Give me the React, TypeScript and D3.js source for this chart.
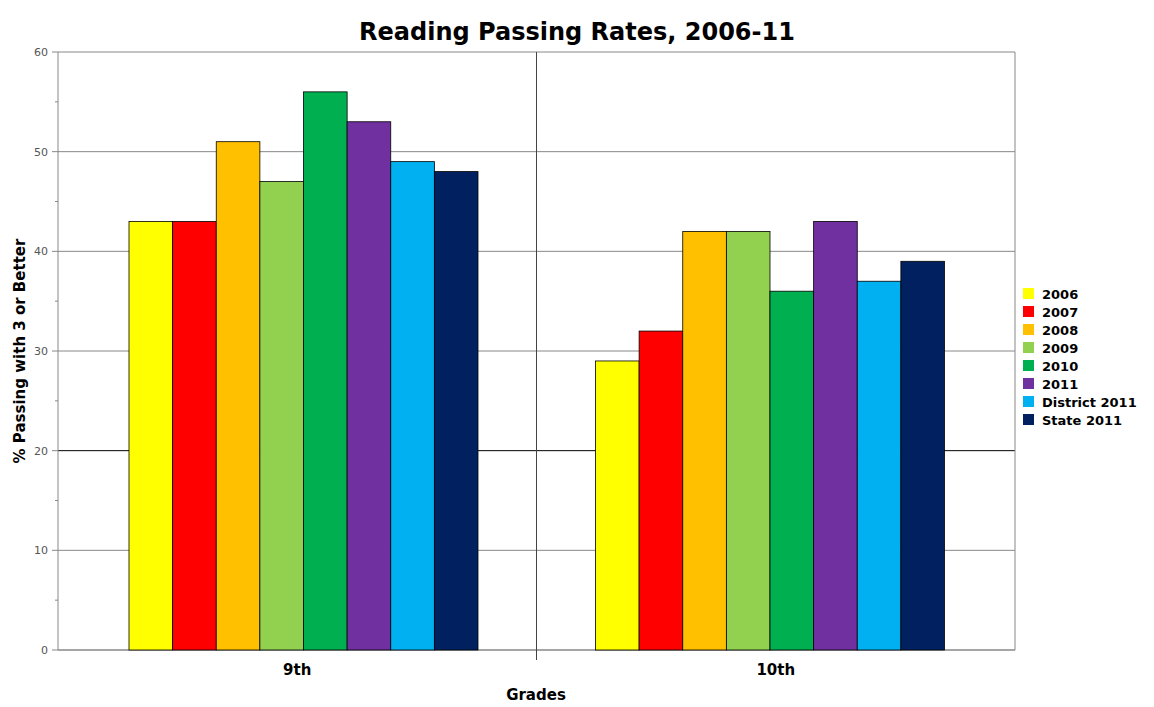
import React from "react";
import * as d3 from "d3";

const grades = ["9th", "10th"];
const series = ["2006", "2007", "2008", "2009", "2010", "2011", "District 2011", "State 2011"];
const colors = ["#ffff00", "#ff0000", "#ffc000", "#92d050", "#00b050", "#7030a0", "#00b0f0", "#002060"];
const values: number[][] = [
  [43, 43, 51, 47, 56, 53, 49, 48],
  [29, 32, 42, 42, 36, 43, 37, 39],
];
const yTicks = [0, 10, 20, 30, 40, 50, 60];
const minorTicks = [5, 15, 25, 35, 45, 55];

export default function App() {
  const W = 1154, H = 707;
  const L = 58, R = 1015, T = 52, B = 650;
  const font = "DejaVu Sans, Verdana, sans-serif";
  const x0 = d3.scaleBand().domain(grades).range([L, R]);
  const y = d3.scaleLinear().domain([0, 60]).range([B, T]);
  const groupW = 349;
  const offsets = [71, 59];
  return (
    <svg width={W} height={H} style={{ position: "absolute", left: 0, top: 0, background: "#fff" }}>
      <text x={577} y={40} textAnchor="middle" fontFamily={font} fontWeight="bold" fontSize={24}>Reading Passing Rates, 2006-11</text>
      {yTicks.map((t) => (
        <g key={t}>
          <line x1={L} x2={R} y1={y(t)} y2={y(t)} stroke={t === 20 ? "#000" : "#888"} strokeWidth={1} />
          <line x1={L - 6} x2={L} y1={y(t)} y2={y(t)} stroke="#888" />
          <text x={L - 10} y={y(t) + 4} textAnchor="end" fontFamily={font} fontSize={11} fill="#555">{t}</text>
        </g>
      ))}
      {minorTicks.map((t) => (
        <line key={t} x1={L - 3} x2={L} y1={y(t)} y2={y(t)} stroke="#888" />
      ))}
      <line x1={L} x2={L} y1={T} y2={B} stroke="#888" />
      <line x1={R} x2={R} y1={T} y2={B} stroke="#888" />
      <line x1={L} x2={R} y1={B} y2={B} stroke="#888" />
      <line x1={x0("10th")!} x2={x0("10th")!} y1={T} y2={B + 10} stroke="#444" />
      {grades.map((g, gi) => {
        const start = x0(g)! + offsets[gi];
        const x1 = d3.scaleBand().domain(series).range([start, start + groupW]);
        return (
          <g key={g}>
            {series.map((s, si) => (
              <rect key={s} x={x1(s)!} y={y(values[gi][si])} width={x1.bandwidth()} height={B - y(values[gi][si])}
                fill={colors[si]} stroke="#000" strokeWidth={0.8} />
            ))}
            <text x={x0(g)! + x0.bandwidth() / 2} y={675} textAnchor="middle" fontFamily={font} fontWeight="bold" fontSize={15}>{g}</text>
          </g>
        );
      })}
      <text x={536} y={700} textAnchor="middle" fontFamily={font} fontWeight="bold" fontSize={15}>Grades</text>
      <text transform="translate(25,351) rotate(-90)" textAnchor="middle" fontFamily={font} fontWeight="bold" fontSize={15}>% Passing with 3 or Better</text>
      {series.map((s, i) => (
        <g key={s} transform={`translate(1023,${288 + i * 18})`}>
          <rect width={11} height={11} fill={colors[i]} />
          <text x={19} y={11} fontFamily={font} fontWeight="bold" fontSize={13}>{s}</text>
        </g>
      ))}
    </svg>
  );
}
